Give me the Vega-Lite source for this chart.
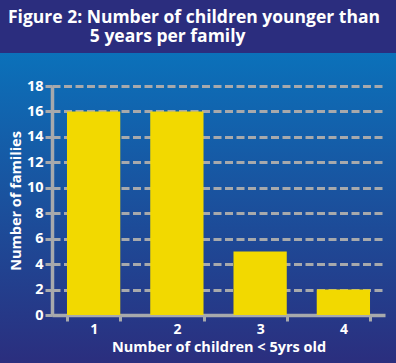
{
  "$schema": "https://vega.github.io/schema/vega-lite/v6.json",
  "width": 396,
  "height": 310,
  "autosize": {"type": "none"},
  "padding": {"left": 0, "top": 53, "right": 0, "bottom": 0},
  "background": "#2b2d7e",
  "title": {
    "text": ["Figure 2: Number of children younger than", "\u200b\u00a0\u00a0\u00a0\u00a0\u00a0\u00a0\u00a0\u00a0\u00a0\u00a0\u00a0\u00a0\u00a0\u00a0\u00a0\u00a0\u00a0\u00a05 years per family"],
    "anchor": "start",
    "frame": "group",
    "color": "white",
    "font": "Open Sans",
    "fontSize": 17.5,
    "fontWeight": "bold",
    "lineHeight": 19.5,
    "offset": 7.5,
    "dx": 8
  },
  "data": {
    "values": [
      {"children": "1", "families": 16},
      {"children": "2", "families": 16},
      {"children": "3", "families": 5},
      {"children": "4", "families": 2}
    ]
  },
  "mark": {"type": "bar", "color": "#f2d900"},
  "encoding": {
    "x": {
      "field": "children",
      "type": "ordinal",
      "scale": {"range": [52, 385], "paddingInner": 0.36, "paddingOuter": 0.18},
      "axis": {
        "title": "Number of children < 5yrs old",
        "labelAngle": 0,
        "offset": -48,
        "tickBand": "extent",
        "tickSize": 6,
        "labelPadding": 1,
        "labelFontSize": 14,
        "titlePadding": 4.5
      }
    },
    "y": {
      "field": "families",
      "type": "quantitative",
      "scale": {"domain": [0, 18], "range": [262, 33], "nice": false},
      "axis": {
        "title": "Number of families",
        "offset": -52,
        "values": [0, 2, 4, 6, 8, 10, 12, 14, 16, 18],
        "grid": true,
        "gridDash": [8, 3.5],
        "gridColor": "#a7a9ac",
        "gridWidth": 3,
        "gridOpacity": 1,
        "tickSize": 7,
        "labelPadding": 2,
        "titlePadding": 3
      }
    }
  },
  "config": {
    "view": {
      "stroke": null,
      "fill": {
        "gradient": "linear",
        "x1": 0, "y1": 0, "x2": 0, "y2": 1,
        "stops": [
          {"offset": 0, "color": "#0b71ba"},
          {"offset": 1, "color": "#2b2e7e"}
        ]
      }
    },
    "axis": {
      "domainColor": "#a7a9ac",
      "domainWidth": 3.5,
      "tickColor": "#a7a9ac",
      "tickWidth": 3,
      "labelColor": "white",
      "labelFont": "Open Sans",
      "labelFontSize": 14.5,
      "labelFontWeight": "bold",
      "titleColor": "white",
      "titleFont": "Open Sans",
      "titleFontSize": 14.5,
      "titleFontWeight": "bold"
    }
  }
}
